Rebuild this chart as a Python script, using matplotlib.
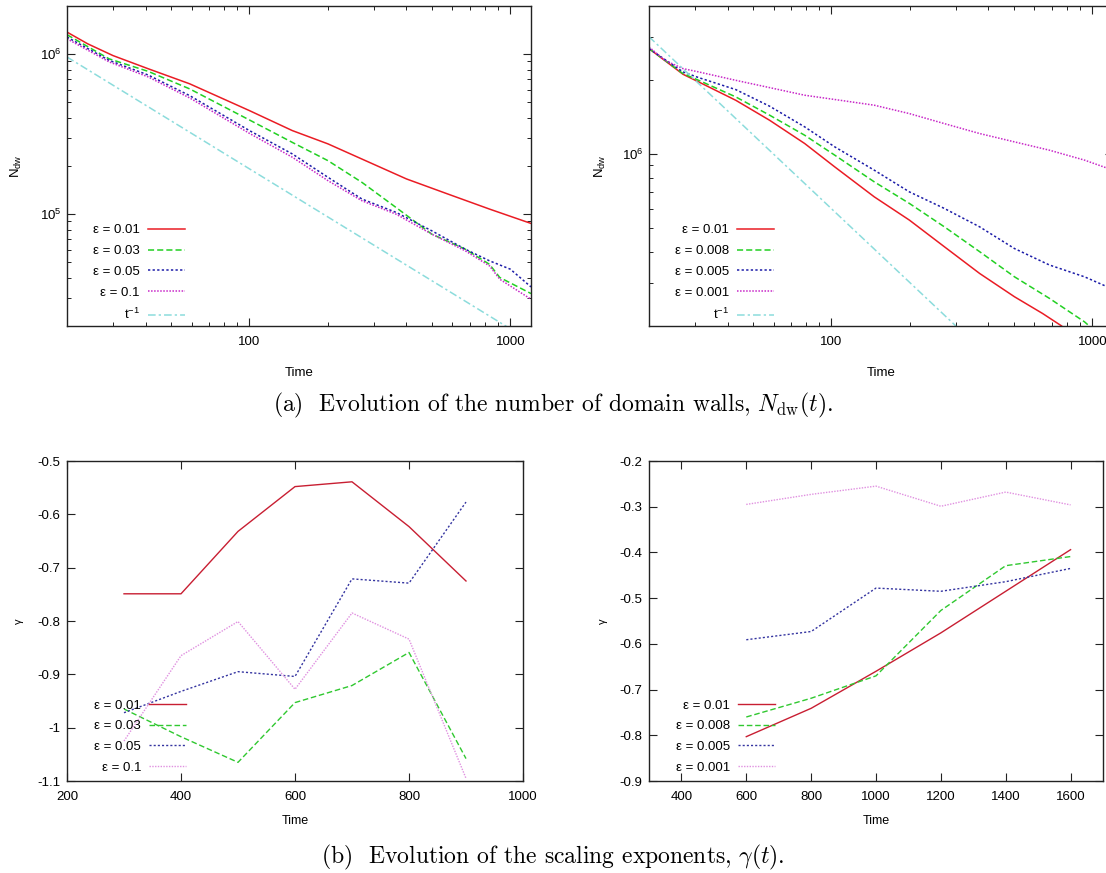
import matplotlib
matplotlib.use("Agg")
import matplotlib.pyplot as plt
import matplotlib.ticker as mticker
import numpy as np

plt.rcParams['font.family'] = ['Liberation Sans', 'DejaVu Sans']
plt.rcParams['mathtext.default'] = 'regular'

# ---------------- data: (a) N_dw(t), left panel ----------------
tl_labels = ["ε = 0.01", "ε = 0.03", "ε = 0.05", "ε = 0.1", "$t^{-1}$"]
tl_t_001 = [20, 24, 30, 41, 59, 100, 146, 200, 270, 400, 577, 832, 1200]
tl_n_001 = [1.374e6, 1.161e6, 9.8e5, 8.1e5, 6.53e5, 4.44e5, 3.33e5, 2.75e5, 2.21e5,
            1.66e5, 1.335e5, 1.076e5, 8.75e4]
tl_t_003 = [20, 29, 41, 59, 100, 146, 200, 270, 365, 500, 672, 832, 911, 1200]
tl_n_003 = [1.323e6, 9.35e5, 7.8e5, 6.07e5, 3.88e5, 2.81e5, 2.16e5, 1.58e5, 1.10e5,
            7.5e4, 6.04e4, 4.86e4, 4.02e4, 3.19e4]
tl_t_005 = [20, 29, 41, 59, 100, 146, 200, 270, 365, 500, 672, 832, 1000, 1200]
tl_n_005 = [1.279e6, 9.15e5, 7.4e5, 5.51e5, 3.33e5, 2.38e5, 1.70e5, 1.243e5, 1.026e5,
            7.87e4, 6.04e4, 5.11e4, 4.53e4, 3.51e4]
tl_t_01 = [20, 29, 41, 59, 100, 146, 200, 270, 365, 500, 672, 832, 911, 1200]
tl_n_01 = [1.248e6, 8.95e5, 7.2e5, 5.33e5, 3.20e5, 2.27e5, 1.62e5, 1.213e5, 1.0e5,
           7.5e4, 5.9e4, 4.75e4, 3.92e4, 2.94e4]
tl_t_ref = [20, 1200]
tl_n_ref = [9.6e5, 1.6e4]

# ---------------- data: (a) N_dw(t), right panel ----------------
tr_labels = ["ε = 0.01", "ε = 0.008", "ε = 0.005", "ε = 0.001", "$t^{-1}$"]
tr_t_001 = [20, 27, 31, 43, 58, 79, 103, 146, 199, 271, 370, 503, 644, 763, 820]
tr_n_001 = [2.684e6, 2.111e6, 1.965e6, 1.655e6, 1.372e6, 1.104e6, 8.87e5, 6.70e5, 5.39e5,
            4.20e5, 3.27e5, 2.63e5, 2.25e5, 2.0e5, 1.86e5]
tr_t_0008 = [20, 27, 31, 43, 58, 79, 103, 146, 199, 271, 370, 503, 685, 933, 1000]
tr_n_0008 = [2.684e6, 2.124e6, 1.995e6, 1.708e6, 1.439e6, 1.193e6, 9.9e5, 7.71e5, 6.30e5,
             5.06e5, 4.01e5, 3.17e5, 2.59e5, 2.08e5, 1.95e5]
tr_t_0005 = [20, 27, 31, 43, 58, 79, 103, 146, 199, 271, 370, 503, 685, 933, 1200]
tr_n_0005 = [2.684e6, 2.158e6, 2.046e6, 1.829e6, 1.565e6, 1.290e6, 1.070e6, 8.60e5, 7.02e5,
             6.01e5, 5.06e5, 4.13e5, 3.54e5, 3.17e5, 2.82e5]
tr_t_0001 = [20, 23, 27, 31, 43, 58, 79, 108, 146, 199, 271, 370, 503, 685, 933, 1200]
tr_n_0001 = [2.726e6, 2.406e6, 2.226e6, 2.158e6, 1.995e6, 1.863e6, 1.735e6, 1.655e6, 1.580e6,
             1.461e6, 1.330e6, 1.212e6, 1.121e6, 1.037e6, 9.45e5, 8.6e5]
tr_t_ref = [20, 300]
tr_n_ref = [3.0e6, 2.0e5]

# ---------------- data: (b) gamma(t), left panel ----------------
bl_labels = ["ε = 0.01", "ε = 0.03", "ε = 0.05", "ε = 0.1"]
bl_time = [300, 400, 500, 600, 700, 800, 900]
bl_g_001 = [-0.749, -0.749, -0.632, -0.548, -0.539, -0.623, -0.725]
bl_g_003 = [-0.965, -1.017, -1.065, -0.953, -0.921, -0.859, -1.058]
bl_g_005 = [-0.972, -0.932, -0.895, -0.904, -0.721, -0.729, -0.577]
bl_g_01 = [-1.025, -0.865, -0.801, -0.928, -0.785, -0.834, -1.095]

# ---------------- data: (b) gamma(t), right panel ----------------
br_labels = ["ε = 0.01", "ε = 0.008", "ε = 0.005", "ε = 0.001"]
br_time = [600, 800, 1000, 1200, 1400, 1600]
br_g_001 = [-0.803, -0.741, -0.660, -0.576, -0.485, -0.394]
br_g_0008 = [-0.760, -0.719, -0.670, -0.527, -0.429, -0.409]
br_g_0005 = [-0.591, -0.573, -0.478, -0.485, -0.464, -0.435]
br_g_0001 = [-0.295, -0.273, -0.255, -0.299, -0.268, -0.296]

# ---------------- styles ----------------
top_colors = ['#ea1c24', '#22d022', '#1c1ca8', '#c828c8', '#8cdcdc']
bot_colors = ['#c81e32', '#30c830', '#3434a0', '#e090e0']
styles = ['-', (0, (4, 2)), (0, (1.5, 1.5)), (0, (1, 1)), (0, (5, 2, 1.5, 2))]

W, H = 1106, 873
fig = plt.figure(figsize=(W / 100, H / 100), dpi=100)


def px_axes(left, top, right, bottom):
    return fig.add_axes([left / W, 1 - bottom / H, (right - left) / W, (bottom - top) / H])


def style_axes(ax):
    for s in ax.spines.values():
        s.set_linewidth(1.0)
        s.set_color('#222222')
    ax.tick_params(which='both', direction='in', top=True, right=True, colors='#222222',
                   labelcolor='black', labelsize=9.5)
    ax.tick_params(which='major', length=6, width=0.8)
    ax.tick_params(which='minor', length=3, width=0.7)


def fmt_g(v, p):
    return f"{v:g}"


def add_legend(ax, x, y):
    leg = ax.legend(loc='upper right', bbox_to_anchor=(x, y), frameon=False, markerfirst=False,
                    fontsize=9.5, handlelength=2.8, handletextpad=0.6, labelspacing=0.64,
                    borderpad=0, borderaxespad=0)
    return leg


# ---- top-left ----
ax1 = px_axes(67, 6, 531, 326)
ax1.set_xscale('log')
ax1.set_yscale('log')
for t, n, c, ls, lab in zip([tl_t_001, tl_t_003, tl_t_005, tl_t_01, tl_t_ref],
                            [tl_n_001, tl_n_003, tl_n_005, tl_n_01, tl_n_ref],
                            top_colors, styles, tl_labels):
    ax1.plot(t, n, color=c, ls=ls, lw=1.1, label=lab)
ax1.set_xlim(20, 1200)
ax1.set_ylim(2e4, 2e6)

# ---- top-right ----
ax2 = px_axes(649, 6, 1113, 326)
ax2.set_xscale('log')
ax2.set_yscale('log')
for t, n, c, ls, lab in zip([tr_t_001, tr_t_0008, tr_t_0005, tr_t_0001, tr_t_ref],
                            [tr_n_001, tr_n_0008, tr_n_0005, tr_n_0001, tr_n_ref],
                            top_colors, styles, tr_labels):
    ax2.plot(t, n, color=c, ls=ls, lw=1.1, label=lab)
ax2.set_xlim(20, 1200)
ax2.set_ylim(2e5, 4e6)

for ax in (ax1, ax2):
    style_axes(ax)
    ax.xaxis.set_major_formatter(mticker.FuncFormatter(fmt_g))
    ax.xaxis.set_minor_formatter(mticker.NullFormatter())
    ax.yaxis.set_minor_formatter(mticker.NullFormatter())
    ax.yaxis.set_minor_locator(mticker.LogLocator(base=10, subs=np.arange(2, 10)))
    ax.xaxis.set_minor_locator(mticker.LogLocator(base=10, subs=np.arange(2, 10)))
    ax.tick_params(axis='x', which='major', pad=7)
    ax.tick_params(axis='y', which='major', pad=4)
    ax.set_xlabel('Time', fontsize=9.5)
    ax.xaxis.set_label_coords(0.5, -0.128)
    ax.set_ylabel('$N_{dw}$', fontsize=9.5)

ax1.yaxis.set_label_coords(-0.093, 0.5)
ax2.yaxis.set_label_coords(-0.088, 0.5)
add_legend(ax1, 0.254, 0.318)
add_legend(ax2, 0.269, 0.318)

# ---- bottom-left ----
ax3 = px_axes(67, 461, 523, 781)
for g, c, ls, lab in zip([bl_g_001, bl_g_003, bl_g_005, bl_g_01], bot_colors, styles, bl_labels):
    ax3.plot(bl_time, g, color=c, ls=ls, lw=1.0, label=lab)
ax3.set_xlim(200, 1000)
ax3.set_ylim(-1.1, -0.5)
ax3.set_xticks(np.arange(200, 1001, 200))
ax3.set_yticks(np.round(np.arange(-1.1, -0.49, 0.1), 1))

# ---- bottom-right ----
ax4 = px_axes(649, 461, 1103, 781)
for g, c, ls, lab in zip([br_g_001, br_g_0008, br_g_0005, br_g_0001], bot_colors, styles, br_labels):
    ax4.plot(br_time, g, color=c, ls=ls, lw=1.0, label=lab)
ax4.set_xlim(300, 1700)
ax4.set_ylim(-0.9, -0.2)
ax4.set_xticks(np.arange(400, 1601, 200))
ax4.set_yticks(np.round(np.arange(-0.9, -0.19, 0.1), 1))

for ax in (ax3, ax4):
    style_axes(ax)
    ax.xaxis.set_major_formatter(mticker.FuncFormatter(fmt_g))
    ax.yaxis.set_major_formatter(mticker.FuncFormatter(fmt_g))
    ax.tick_params(axis='x', which='major', pad=7)
    ax.tick_params(axis='y', which='major', pad=5)
    ax.set_xlabel('Time', fontsize=9)
    ax.xaxis.set_label_coords(0.5, -0.105)
    ax.set_ylabel('γ', fontsize=8)

ax3.yaxis.set_label_coords(-0.094, 0.5)
ax4.yaxis.set_label_coords(-0.09, 0.5)
add_legend(ax3, 0.261, 0.255)
add_legend(ax4, 0.2775, 0.255)

# ---- captions ----
fig.text(553 / W, 1 - 405 / H,
         r"(a)  Evolution of the number of domain walls, $\mathit{N}_{\rm dw}(\mathit{t})$.",
         family='cmr10', math_fontfamily='cm', fontsize=17, ha='center', va='center')
fig.text(553 / W, 1 - 857 / H,
         r"(b)  Evolution of the scaling exponents, $\mathit{\gamma}(\mathit{t})$.",
         family='cmr10', math_fontfamily='cm', fontsize=17, ha='center', va='center')

fig.savefig('out.png', dpi=100)
